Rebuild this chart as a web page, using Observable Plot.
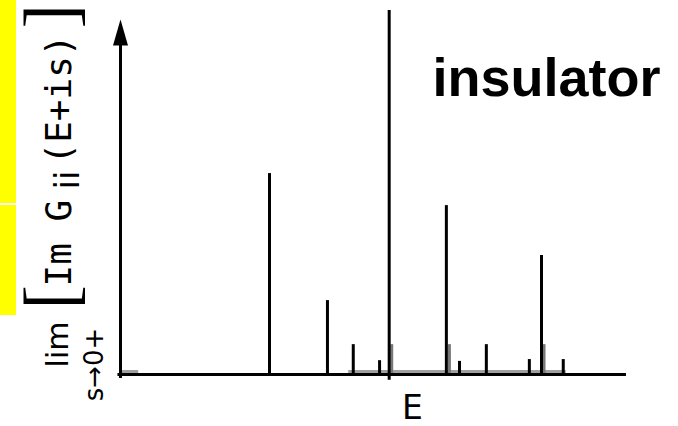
<!DOCTYPE html>
<html><head><meta charset="utf-8">
<script src="https://cdn.jsdelivr.net/npm/d3@7"></script>
<script src="https://cdn.jsdelivr.net/npm/@observablehq/plot@0.6"></script>
<style>
html,body{margin:0;padding:0;background:#fff;}
#chart{position:relative;width:678px;height:426px;overflow:hidden;background:#fff;}
#chart svg{position:absolute;left:0;top:0;}
.yellow{position:absolute;left:0;width:16px;background:#ffff00;}
g[aria-label="lab-main"] text{letter-spacing:2px;}
g[aria-label="lab-sub"] text{letter-spacing:3px;}
g[aria-label="lab-lim"] text{letter-spacing:4px;}
</style></head><body>
<div id="chart"></div>
<script>
// Spectral weight spikes (E in arbitrary units 0..100, height in arbitrary units 0..100)
const peakE    = [29.45, 40.9, 46.0, 51.2, 53.1, 64.4, 67.0, 72.3, 80.8, 83.2, 87.5];
const peakH    = [55.2, 20.3, 8.2, 3.8, 100, 46.4, 3.6, 8.2, 4.1, 32.7, 4.1];
const peakBase = [0, 0, 0, 0, -1.6, 0, 0, 0, 0, 0, 0];
// weaker satellite lines next to the strong ones
const satE = [53.6, 65.0, 83.7];
const satH = [8.2, 8.2, 8.2];
// low continuous background band
const bandStart = [0, 45.1];
const bandEnd   = [3.6, 88.1];
const bandH     = [1.1, 1.1];
// axis extent
const axisTop = 90.4, arrowTip = 97.5;
const title = "insulator";
const xLabel = "E";

const peaks = peakE.map((e, i) => ({E: e, h: peakH[i], lo: peakBase[i]}));
const sats = satE.map((e, i) => ({E: e, h: satH[i]}));
const bands = bandStart.map((s, i) => ({s, e: bandEnd[i], h: bandH[i]}));

const arrowHead = {draw(ctx) { ctx.moveTo(0, 0); ctx.lineTo(7.5, 26); ctx.lineTo(-7.5, 26); ctx.closePath(); }};

const rot = (txt, opts) => Plot.text([txt], {text: d => d, frameAnchor: "top-left", rotate: -90, lineAnchor: "bottom", fill: "#000", ...opts});

const plot = Plot.plot({
  width: 678, height: 426,
  marginLeft: 0, marginRight: 0, marginTop: 0, marginBottom: 0,
  style: {background: "transparent", fontFamily: "DejaVu Sans"},
  x: {domain: [0, 100], range: [120, 626], axis: null},
  y: {domain: [0, 100], range: [374, 10], axis: null},
  marks: [
    Plot.rect(bands, {x1: "s", x2: "e", y1: 0, y2: "h", fill: "#a0a0a0"}),
    Plot.ruleX(sats, {x: "E", y1: 0, y2: "h", stroke: "#777", strokeWidth: 3}),
    Plot.ruleX(peaks, {x: "E", y1: "lo", y2: "h", stroke: "#000", strokeWidth: 3}),
    Plot.ruleY([0], {x1: -0.5, x2: 100, stroke: "#000", strokeWidth: 3}),
    Plot.ruleX([0], {y1: -1.1, y2: axisTop, stroke: "#000", strokeWidth: 3}),
    Plot.dot([0], {x: 0, y: arrowTip, symbol: arrowHead, fill: "#000", stroke: "none", r: 5}),
    Plot.text([xLabel], {text: d => d, frameAnchor: "top-left", dx: 412, dy: 418, lineAnchor: "bottom", textAnchor: "middle", fontSize: 33, fill: "#000"}),
    Plot.text([title], {text: d => d, frameAnchor: "top-left", dx: 432, dy: 95, lineAnchor: "bottom", textAnchor: "start", fontSize: 54, fontWeight: "bold", fontFamily: "Liberation Sans", fill: "#000"}),
    rot("[", {dx: 74, dy: 309, textAnchor: "start", fontSize: 73, fontFamily: "Liberation Serif"}),
    rot("]", {dx: 74, dy: 28, textAnchor: "start", fontSize: 73, fontFamily: "Liberation Serif"}),
    rot("Im G", {dx: 70, dy: 286, textAnchor: "start", fontSize: 36, fontFamily: "DejaVu Sans Mono", ariaLabel: "lab-main"}),
    rot("ii", {dx: 78, dy: 189, textAnchor: "start", fontSize: 34, fontFamily: "DejaVu Sans", ariaLabel: "lab-sub"}),
    rot("(E+is)", {dx: 70, dy: 164, textAnchor: "start", fontSize: 36, fontFamily: "DejaVu Sans Mono", ariaLabel: "lab-main"}),
    rot("lim", {dx: 67, dy: 344, textAnchor: "middle", fontSize: 30, fontFamily: "DejaVu Sans"}),
    rot("s\u21920+", {dx: 102, dy: 364, textAnchor: "middle", fontSize: 26, fontFamily: "DejaVu Sans", ariaLabel: "lab-lim"})
  ]
});
const chart = document.getElementById("chart");
chart.appendChild(plot);
const y1 = document.createElement("div"); y1.className = "yellow"; y1.style.top = "0px"; y1.style.height = "203px";
const y2 = document.createElement("div"); y2.className = "yellow"; y2.style.top = "205px"; y2.style.height = "110px";
chart.appendChild(y1); chart.appendChild(y2);
</script>
</body></html>
